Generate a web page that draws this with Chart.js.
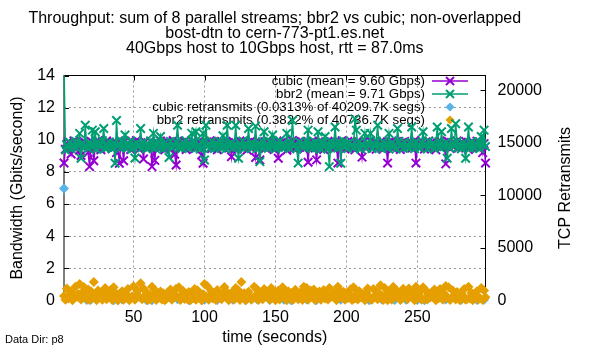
<!DOCTYPE html>
<html>
<head>
<meta charset="utf-8">
<script src="https://cdn.jsdelivr.net/npm/chart.js@4.4.1/dist/chart.umd.min.js"></script>
<style>
  html, body { margin: 0; padding: 0; background: #fff; }
  #wrap { width: 600px; height: 350px; }
</style>
</head>
<body>
<div id="wrap"><canvas id="tput" width="600" height="350"></canvas></div>
<script>
// samples are one per second, starting at t = 1
const startSec = 1;

const cubicGbps = [
  8.56, 9.42, 9.71, 9.88, 9.55, 9.12, 9.64, 9.93, 9.47, 9.76,
  9.81, 9.35, 9.02, 9.69, 9.90, 9.58, 9.74, 9.21, 8.33, 9.66,
  9.85, 8.70, 9.52, 9.79, 9.94, 9.61, 9.38, 9.83, 9.70, 9.49,
  9.92, 9.57, 9.80, 9.66, 9.44, 9.87, 9.73, 9.20, 9.59, 8.54,
  9.78, 9.63, 8.70, 9.91, 9.50, 9.82, 9.68, 9.39, 9.86, 9.74,
  9.56, 9.95, 9.62, 9.41, 9.80, 9.71, 8.80, 9.88, 9.53, 9.77,
  9.65, 9.90, 8.33, 9.58, 8.72, 9.84, 9.69, 9.46, 9.93, 9.60,
  9.75, 9.37, 9.89, 9.64, 9.81, 9.52, 9.72, 9.96, 9.10, 8.43,
  9.67, 9.85, 9.49, 9.78, 9.61, 9.92, 9.40, 9.74, 9.83, 9.55,
  9.70, 9.88, 9.44, 9.79, 9.63, 9.91, 9.51, 9.05, 8.54, 9.76,
  9.84, 9.58, 9.69, 9.94, 9.45, 9.73, 9.86, 9.60, 9.38, 9.81,
  9.67, 9.90, 9.54, 9.77, 9.62, 9.85, 9.48, 9.72, 8.95, 9.89,
  9.59, 9.80, 9.43, 9.75, 9.93, 9.64, 9.51, 9.87, 9.70, 9.36,
  9.83, 9.58, 9.95, 9.66, 9.79, 8.90, 9.52, 9.88, 8.75, 9.71,
  9.62, 9.84, 9.47, 9.76, 9.91, 9.55, 9.69, 9.82, 9.40, 9.74,
  9.87, 8.85, 9.63, 9.78, 9.50, 9.92, 9.68, 9.35, 9.81, 9.59,
  9.73, 9.96, 9.45, 9.86, 9.61, 9.77, 9.53, 9.89, 9.66, 9.42,
  9.84, 9.70, 8.60, 9.80, 9.57, 9.93, 9.64, 9.48, 8.75, 9.75,
  9.88, 9.60, 9.72, 9.39, 9.85, 9.67, 9.91, 9.54, 9.79, 9.63,
  9.46, 9.87, 9.71, 8.55, 9.82, 9.58, 9.94, 9.65, 9.43, 9.76,
  9.89, 9.52, 9.68, 9.83, 9.61, 9.37, 9.78, 9.90, 9.56, 9.74,
  8.92, 9.85, 9.63, 9.47, 9.80, 9.69, 9.92, 9.55, 9.72, 9.86,
  9.41, 9.77, 9.64, 9.88, 9.59, 9.81, 9.50, 9.70, 8.55, 9.84,
  9.62, 9.93, 9.45, 9.76, 9.87, 9.58, 9.71, 9.39, 9.82, 9.66,
  9.90, 9.53, 9.78, 9.64, 9.85, 9.48, 9.73, 9.95, 8.55, 9.61,
  9.80, 9.57, 9.89, 9.69, 9.42, 9.83, 9.62, 9.91, 9.51, 9.75,
  9.86, 9.60, 9.38, 9.79, 9.67, 9.92, 9.54, 9.72, 9.84, 8.50,
  9.63, 9.88, 9.46, 9.77, 9.58, 9.81, 9.70, 9.93, 9.49, 9.66,
  9.85, 9.55, 9.74, 9.90, 9.62, 9.40, 9.79, 9.68, 9.87, 9.57,
  9.73, 9.91, 9.52, 9.82, 9.64, 9.20, 9.76, 8.55
];

const bbr2Gbps = [
  14.60, 9.37, 9.68, 9.52, 9.85, 9.44, 9.73, 9.60, 9.91, 9.49,
  9.66, 10.40, 8.85, 9.78, 9.55, 10.90, 9.62, 9.47, 9.83, 9.58,
  10.60, 9.70, 10.50, 9.41, 9.88, 9.57, 9.64, 9.95, 10.70, 9.46,
  9.72, 9.53, 9.86, 9.61, 9.45, 9.79, 8.54, 11.20, 9.59, 9.74,
  9.50, 9.89, 9.63, 10.30, 9.48, 9.77, 9.56, 9.92, 9.43, 9.69,
  8.87, 9.81, 9.58, 9.66, 10.70, 9.51, 9.87, 9.62, 9.44, 9.76,
  9.55, 9.93, 9.60, 10.40, 9.48, 9.71, 9.84, 9.52, 10.20, 9.65,
  9.42, 9.80, 9.57, 9.69, 8.90, 9.90, 9.54, 9.73, 9.61, 9.86,
  10.90, 9.50, 9.67, 9.45, 9.82, 9.59, 9.94, 9.63, 9.47, 9.75,
  10.40, 9.56, 9.88, 10.50, 9.52, 9.70, 9.43, 9.85, 10.40, 8.74,
  10.90, 9.58, 9.76, 9.49, 9.91, 9.62, 9.45, 9.80, 9.55, 9.68,
  9.87, 9.51, 10.25, 9.64, 9.42, 10.90, 9.73, 9.59, 9.84, 9.48,
  9.66, 10.90, 9.53, 8.85, 9.79, 9.60, 9.92, 9.46, 9.71, 9.57,
  10.70, 9.64, 9.83, 9.50, 9.68, 10.85, 9.44, 9.77, 8.64, 9.61,
  9.89, 10.50, 9.55, 9.72, 9.47, 9.86, 9.58, 10.30, 9.65, 9.43,
  9.80, 9.53, 9.94, 9.62, 9.49, 9.75, 9.57, 10.40, 9.69, 9.46,
  9.84, 11.20, 9.59, 9.71, 9.44, 8.55, 9.87, 9.60, 9.74, 9.52,
  9.68, 9.91, 10.60, 9.55, 9.78, 9.45, 9.63, 9.85, 9.50, 10.50,
  9.66, 9.41, 9.82, 9.58, 10.20, 9.73, 9.47, 8.33, 9.89, 9.61,
  9.54, 10.80, 9.70, 9.48, 9.86, 8.54, 9.64, 9.92, 9.57, 9.75,
  9.45, 9.81, 9.60, 9.69, 9.52, 11.30, 10.60, 9.56, 9.88, 9.43,
  9.72, 9.62, 10.40, 9.50, 9.84, 9.67, 10.40, 9.46, 9.79, 9.58,
  9.93, 10.90, 9.55, 9.70, 9.44, 9.86, 9.61, 9.75, 9.49, 10.40,
  9.65, 9.82, 9.53, 9.68, 9.42, 10.70, 9.90, 9.59, 9.73, 9.47,
  9.85, 9.56, 9.69, 9.51, 9.80, 10.80, 9.62, 9.45, 9.88, 9.57,
  9.71, 9.48, 9.83, 10.50, 9.60, 9.74, 9.43, 9.92, 9.55, 9.67,
  9.79, 9.46, 9.63, 10.80, 9.87, 9.52, 10.50, 9.70, 9.58, 9.84,
  8.85, 9.66, 9.49, 10.70, 9.75, 9.61, 11.00, 9.90, 9.54, 9.72,
  9.44, 9.81, 9.59, 8.85, 9.68, 10.80, 9.47, 9.86, 9.63, 9.52,
  9.77, 9.60, 9.89, 9.45, 10.20, 9.71, 10.60, 9.58
];

// only seconds with retransmits are plotted (null = none that second)
const cubicRetrans = [
  10660, null, null, null, null, null, null, null, null, null,
  null, null, null, null, null, null, 40, null, null, 75,
  null, null, null, null, null, null, null, null, null, null,
  null, null, null, null, null, 30, null, null, null, null,
  null, 90, null, null, null, null, null, null, null, null,
  null, null, null, null, null, null, null, null, 55, null,
  null, null, 20, null, null, null, null, null, null, null,
  null, null, null, null, null, null, null, null, null, null,
  110, null, null, null, null, null, null, null, 35, null,
  null, null, null, null, null, null, null, null, null, 65,
  null, null, null, null, null, null, null, null, 45, null,
  null, null, null, null, null, null, null, null, null, 80,
  null, null, null, null, null, null, null, null, 25, null,
  null, null, null, null, null, null, 120, null, null, null,
  null, null, null, null, null, 50, null, null, null, null,
  null, null, null, null, null, 70, null, null, null, null,
  30, null, null, null, null, null, null, null, null, null,
  null, 95, null, null, null, null, null, null, 40, null,
  null, null, null, null, null, null, null, null, null, null,
  null, null, null, null, null, 60, null, null, null, null,
  null, null, null, 85, null, null, null, null, null, null,
  null, null, null, null, null, 35, null, null, null, null,
  null, null, null, null, 105, null, null, null, null, null,
  null, null, null, 45, null, null, null, null, null, null,
  null, 75, null, null, null, null, null, null, null, 55,
  null, null, null, null, 30, null, null, null, null, null,
  null, null, null, null, null, null, null, null, null, 90,
  null, null, null, null, null, null, null, null, null, null,
  65, null, null, null, null, null, null, null, null, null,
  null, 40, null, null, null, null, 80, null
];

const bbr2Retrans = [
  420, 60, 1150, 180, 540, 820, 30, 470, 1300, 350,
  610, 1570, 90, 780, 1280, 440, 150, 1050, 40, 880,
  370, 1760, 600, 20, 950, 410, 720, 70, 560, 1200,
  110, 670, 480, 1020, 50, 1250, 760, 380, 10, 640,
  450, 870, 80, 710, 540, 1100, 30, 180, 400, 1350,
  60, 510, 930, 350, 1630, 120, 1150, 440, 820, 20,
  560, 90, 1300, 470, 990, 40, 600, 250, 850, 100,
  690, 30, 150, 760, 380, 1050, 70, 610, 460, 1120,
  340, 1250, 50, 580, 910, 140, 640, 130, 800, 20,
  550, 220, 1100, 60, 970, 310, 660, 10, 590, 1570,
  400, 1350, 80, 520, 880, 200, 630, 40, 1010, 350,
  570, 110, 690, 1280, 410, 780, 30, 160, 460, 860,
  90, 1200, 510, 940, 50, 1760, 430, 700, 20, 580,
  840, 360, 70, 210, 1300, 480, 1060, 40, 560, 690,
  120, 1100, 870, 390, 640, 60, 1180, 450, 710, 30,
  600, 940, 90, 540, 1250, 370, 650, 20, 880, 440,
  720, 50, 150, 1030, 350, 110, 480, 800, 40, 1310,
  410, 1200, 80, 560, 920, 310, 1050, 30, 590, 250,
  850, 60, 630, 1000, 200, 540, 100, 1190, 330, 600,
  470, 780, 20, 1300, 960, 290, 520, 830, 70, 680,
  240, 570, 1080, 40, 1250, 190, 610, 90, 890, 320,
  660, 500, 30, 790, 1150, 380, 120, 60, 1100, 430,
  930, 120, 620, 1440, 480, 50, 1200, 540, 20, 860,
  590, 80, 1300, 410, 1010, 300, 640, 40, 170, 1120,
  450, 780, 110, 1150, 890, 350, 720, 30, 1310, 200,
  560, 830, 60, 1250, 150, 940, 90, 610, 280, 770,
  500, 1050, 20, 690, 220, 1100, 870, 70, 640, 1380,
  300, 1250, 40, 180, 950, 550, 100, 810, 620, 30,
  680, 430, 1090, 60, 150, 1310, 200, 740, 20, 610,
  360, 880, 90, 240, 1200, 50, 960, 310
];

const xTicks = [50, 100, 150, 200, 250];
const yTicks = [0, 2, 4, 6, 8, 10, 12, 14];
const y2Ticks = [0, 5000, 10000, 15000, 20000];

const titleLines = [
  'Throughput: sum of 8 parallel streams; bbr2 vs cubic; non-overlapped',
  'bost-dtn to cern-773-pt1.es.net',
  '40Gbps host to 10Gbps host, rtt = 87.0ms'
];
const seriesNames = [
  'cubic (mean = 9.60 Gbps)',
  'bbr2 (mean = 9.71 Gbps)',
  'cubic retransmits (0.0313% of 40209.7K segs)',
  'bbr2 retransmits (0.3822% of 40736.7K segs)'
];

const PURPLE = '#9400d3';
const GREEN = '#009e73';
const BLUE = '#56b4e9';
const ORANGE = '#e69f00';
const FONT = '"Liberation Sans", Arial, sans-serif';

const seconds = cubicGbps.map((_, i) => startSec + i);
const pts = arr => arr.map((v, i) => ({ x: seconds[i], y: v }));

function drawX(ctx, x, y, r) {
  ctx.beginPath();
  ctx.moveTo(x - r, y - r); ctx.lineTo(x + r, y + r);
  ctx.moveTo(x - r, y + r); ctx.lineTo(x + r, y - r);
  ctx.stroke();
}
function drawDiamond(ctx, x, y, r) {
  ctx.beginPath();
  ctx.moveTo(x, y - r); ctx.lineTo(x + r, y);
  ctx.lineTo(x, y + r); ctx.lineTo(x - r, y);
  ctx.closePath();
  ctx.fill();
}

// gnuplot style frame, inward ticks, key and labels
const gnuplotLook = {
  id: 'gnuplotLook',
  beforeDatasetsDraw(chart) {
    const { ctx, chartArea: a, scales } = chart;
    ctx.save();
    ctx.strokeStyle = '#000';
    ctx.lineWidth = 1;
    ctx.strokeRect(a.left, a.top, a.right - a.left, a.bottom - a.top);

    const tl = 5;
    ctx.beginPath();
    xTicks.forEach(v => {
      const px = Math.round(scales.x.getPixelForValue(v)) + 0.5;
      ctx.moveTo(px, a.bottom); ctx.lineTo(px, a.bottom - tl);
      ctx.moveTo(px, a.top); ctx.lineTo(px, a.top + tl);
    });
    yTicks.forEach(v => {
      const py = Math.round(scales.y.getPixelForValue(v)) + 0.5;
      ctx.moveTo(a.left, py); ctx.lineTo(a.left + tl, py);
    });
    y2Ticks.forEach(v => {
      const py = Math.round(scales.y2.getPixelForValue(v)) + 0.5;
      ctx.moveTo(a.right, py); ctx.lineTo(a.right - tl, py);
    });
    ctx.stroke();

    // key
    ctx.font = '13.3px ' + FONT;
    ctx.textAlign = 'right';
    ctx.textBaseline = 'middle';
    const rows = [81, 94, 107, 120];
    const colors = [PURPLE, GREEN, BLUE, ORANGE];
    seriesNames.forEach((name, i) => {
      const y = rows[i];
      ctx.fillStyle = '#000';
      ctx.fillText(name, 425, y);
      ctx.strokeStyle = colors[i];
      ctx.fillStyle = colors[i];
      if (i < 2) {
        ctx.lineWidth = 1.5;
        ctx.beginPath(); ctx.moveTo(432, y); ctx.lineTo(468, y); ctx.stroke();
        ctx.lineWidth = 2;
        drawX(ctx, 450, y, 4);
      } else {
        drawDiamond(ctx, 450, y, 4.5);
      }
    });
    ctx.restore();
  },
  afterDraw(chart) {
    const { ctx, chartArea: a } = chart;
    const cx = (a.left + a.right) / 2;
    ctx.save();
    ctx.fillStyle = '#000';
    ctx.textBaseline = 'middle';
    ctx.textAlign = 'center';
    ctx.font = '16px ' + FONT;
    titleLines.forEach((t, i) => ctx.fillText(t, cx, 19 + i * 15));
    ctx.fillText('time (seconds)', cx, 338);

    const cy = (a.top + a.bottom) / 2;
    ctx.save();
    ctx.translate(18, cy);
    ctx.rotate(-Math.PI / 2);
    ctx.fillText('Bandwidth (Gbits/second)', 0, 0);
    ctx.restore();
    ctx.save();
    ctx.translate(566, cy);
    ctx.rotate(-Math.PI / 2);
    ctx.fillText('TCP Retransmits', 0, 0);
    ctx.restore();

    ctx.font = '11px ' + FONT;
    ctx.textAlign = 'left';
    ctx.fillText('Data Dir: p8', 5, 340);
    ctx.restore();
  }
};

const tickFont = { family: FONT, size: 16 };
const gridGray = '#999999';

new Chart(document.getElementById('tput'), {
  type: 'line',
  data: {
    datasets: [
      {
        label: seriesNames[0],
        data: pts(cubicGbps),
        yAxisID: 'y',
        borderColor: PURPLE,
        backgroundColor: PURPLE,
        borderWidth: 1.5,
        pointStyle: 'crossRot',
        pointRadius: 6,
        pointBorderWidth: 2,
        pointBorderColor: PURPLE,
        clip: { left: 6, right: 6, top: 0, bottom: 6 },
        order: 4
      },
      {
        label: seriesNames[1],
        data: pts(bbr2Gbps),
        yAxisID: 'y',
        borderColor: GREEN,
        backgroundColor: GREEN,
        borderWidth: 1.5,
        pointStyle: 'crossRot',
        pointRadius: 6,
        pointBorderWidth: 2,
        pointBorderColor: GREEN,
        clip: { left: 6, right: 6, top: 0, bottom: 6 },
        order: 3
      },
      {
        label: seriesNames[2],
        data: pts(cubicRetrans),
        yAxisID: 'y2',
        showLine: false,
        pointStyle: 'rectRot',
        pointRadius: 5,
        pointBorderWidth: 0,
        pointBackgroundColor: BLUE,
        borderColor: BLUE,
        clip: false,
        order: 2
      },
      {
        label: seriesNames[3],
        data: pts(bbr2Retrans),
        yAxisID: 'y2',
        showLine: false,
        pointStyle: 'rectRot',
        pointRadius: 5,
        pointBorderWidth: 0,
        pointBackgroundColor: ORANGE,
        borderColor: ORANGE,
        clip: false,
        order: 1
      }
    ]
  },
  options: {
    responsive: false,
    animation: false,
    devicePixelRatio: 1,
    layout: { padding: { top: 75.5, left: 0, right: 0, bottom: 0 } },
    elements: { line: { tension: 0, fill: false } },
    plugins: {
      legend: { display: false },
      tooltip: { enabled: false },
      title: { display: false }
    },
    scales: {
      x: {
        type: 'linear',
        min: startSec,
        max: 298,
        afterBuildTicks: s => { s.ticks = xTicks.map(v => ({ value: v })); },
        afterFit: s => { s.height = 49.5; },
        ticks: { font: tickFont, color: '#000', padding: 7, maxRotation: 0 },
        grid: { color: gridGray, drawTicks: false },
        border: { display: false, dash: [2, 3] }
      },
      y: {
        position: 'left',
        min: 0,
        max: 14,
        afterBuildTicks: s => { s.ticks = yTicks.map(v => ({ value: v })); },
        afterFit: s => { s.width = 64; },
        ticks: { font: tickFont, color: '#000', padding: 9 },
        grid: { color: gridGray, drawTicks: false },
        border: { display: false, dash: [2, 3] }
      },
      y2: {
        position: 'right',
        min: 0,
        max: 21400,
        afterBuildTicks: s => { s.ticks = y2Ticks.map(v => ({ value: v })); },
        afterFit: s => { s.width = 114.5; },
        ticks: { font: tickFont, color: '#000', padding: 12, callback: v => String(v) },
        grid: { display: false, drawTicks: false },
        border: { display: false }
      }
    }
  },
  plugins: [gnuplotLook]
});
</script>
</body>
</html>
